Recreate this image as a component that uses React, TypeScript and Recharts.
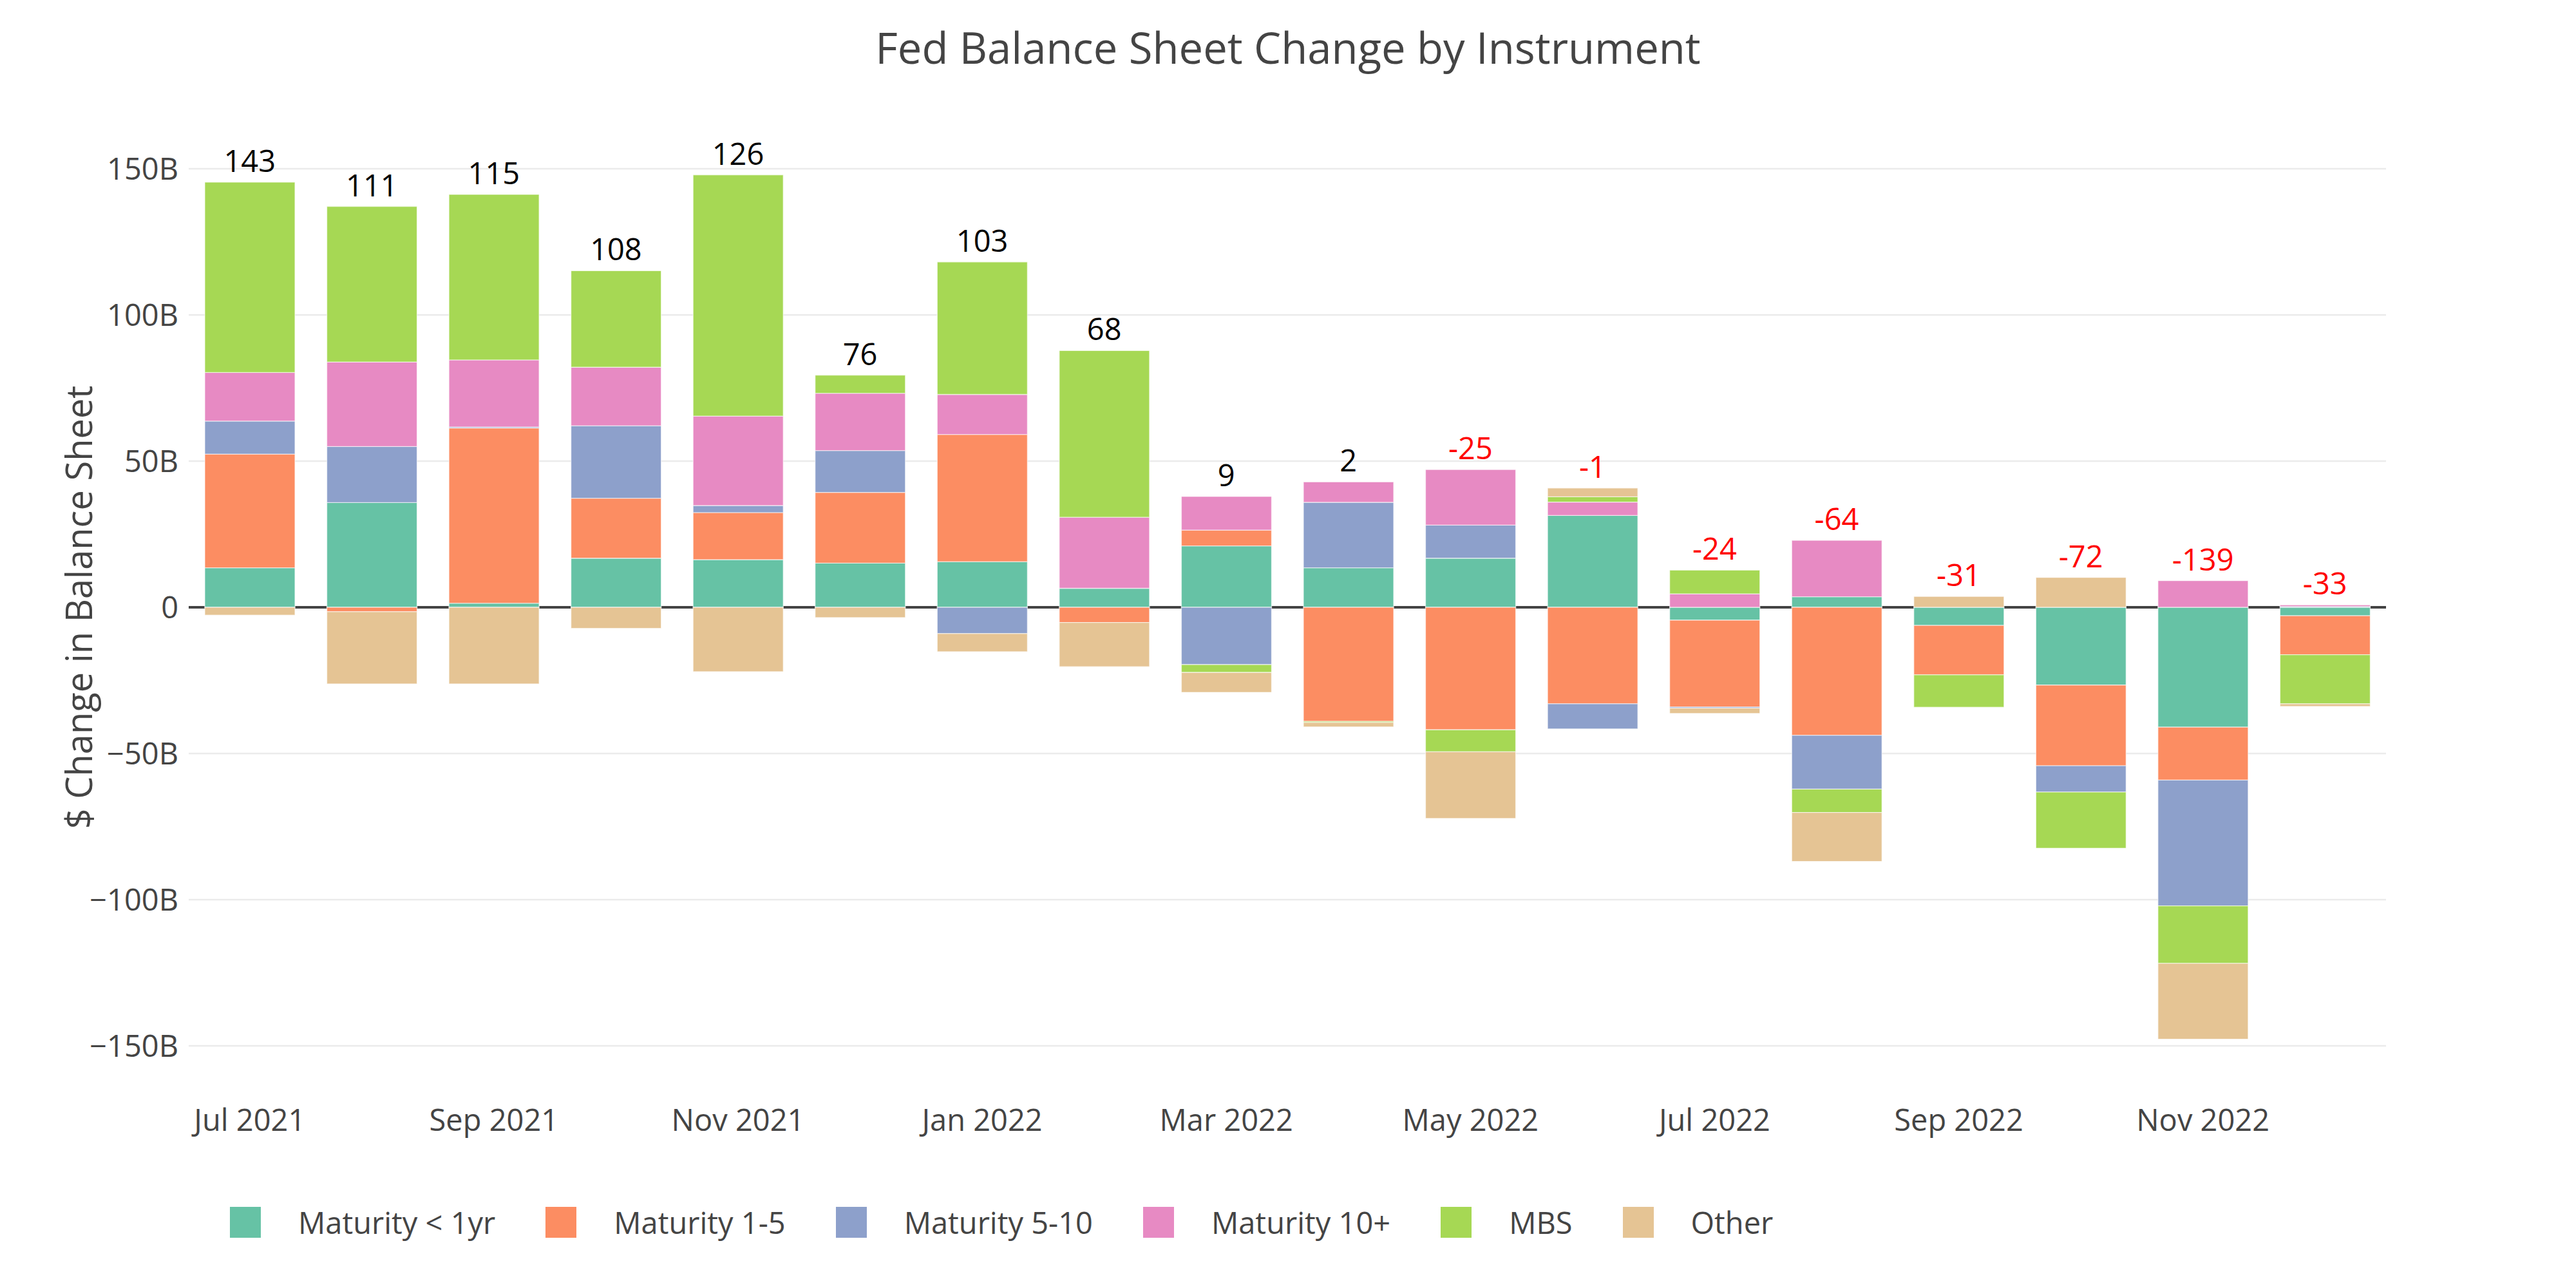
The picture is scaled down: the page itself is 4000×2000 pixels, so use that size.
import React from 'react';
import { ComposedChart, Bar, Line, XAxis, YAxis, CartesianGrid, LabelList } from 'recharts';

// monthly change of the Fed balance sheet, $B
const months = [
  'Jul 2021', 'Aug 2021', 'Sep 2021', 'Oct 2021', 'Nov 2021', 'Dec 2021',
  'Jan 2022', 'Feb 2022', 'Mar 2022', 'Apr 2022', 'May 2022', 'Jun 2022',
  'Jul 2022', 'Aug 2022', 'Sep 2022', 'Oct 2022', 'Nov 2022', 'Dec 2022',
];

const maturityUnder1 = [13.5, 35.8, 1.4, 16.8, 16.3, 15.1, 15.6, 6.5, 21, 13.5, 16.8, 31.4, -4.4, 3.6, -6.2, -26.6, -41, -2.9];
const maturity1to5 = [38.9, -1.5, 59.9, 20.5, 16.1, 24.2, 43.5, -5.2, 5.4, -39, -41.9, -33, -29.7, -43.8, -16.9, -27.6, -18.1, -13.3];
const maturity5to10 = [11.3, 19.2, 0.4, 24.8, 2.4, 14.3, -9, 0, -19.6, 22.4, 11.3, -8.6, -0.4, -18.4, 0, -9, -43, 0.3];
const maturity10plus = [16.6, 28.9, 22.9, 20, 30.6, 19.6, 13.7, 24.3, 11.5, 7, 19, 4.6, 4.6, 19.3, 0, 0, 9.1, 0.5];
const mbs = [65.1, 53.2, 56.6, 33, 82.5, 6.2, 45.3, 57, -2.7, -0.4, -7.5, 1.8, 8.1, -8, -11.1, -19.2, -19.7, -16.8];
const other = [-2.7, -24.7, -26.2, -7.2, -22, -3.5, -6.2, -15.1, -6.8, -1.5, -22.8, 3, -1.8, -16.7, 3.7, 10.2, -25.9, -0.9];

// net change labels printed above each bar
const netLabels = [143, 111, 115, 108, 126, 76, 103, 68, 9, 2, -25, -1, -24, -64, -31, -72, -139, -33];

const yTicks = [-150, -100, -50, 0, 50, 100, 150];
const yDomain = [-160, 160];

const series = [
  { key: 'under1', name: 'Maturity < 1yr', color: '#66c2a5', values: maturityUnder1 },
  { key: 'm1to5', name: 'Maturity 1-5', color: '#fc8d62', values: maturity1to5 },
  { key: 'm5to10', name: 'Maturity 5-10', color: '#8da0cb', values: maturity5to10 },
  { key: 'm10plus', name: 'Maturity 10+', color: '#e78ac3', values: maturity10plus },
  { key: 'mbs', name: 'MBS', color: '#a6d854', values: mbs },
  { key: 'other', name: 'Other', color: '#e5c494', values: other },
];

const data = months.map((m, i) => {
  const row: any = { month: m, net: netLabels[i] };
  let pos = 0;
  series.forEach((s) => {
    row[s.key] = s.values[i];
    if (s.values[i] > 0) pos += s.values[i];
  });
  row.posTop = pos;
  return row;
});

const FONT = "'Open Sans', sans-serif";
const W = 4000;
const H = 2000;
const MARGIN = { top: 216.6, right: 295, left: 0, bottom: 230.6 };
const X_AXIS_H = 100;
const PLOT_H = H - MARGIN.top - MARGIN.bottom - X_AXIS_H;
// pixel row of value 0, used only to pick the darker grid line
const ZERO_Y = MARGIN.top + (PLOT_H * yDomain[1]) / (yDomain[1] - yDomain[0]);

const fmtY = (v: number) => {
  if (v === 0) return '0';
  return (v < 0 ? '\u2212' : '') + Math.abs(v) + 'B';
};

const NetLabel = (props: any) => {
  const { x, y, value } = props;
  return (
    <text x={x} y={y - 16} textAnchor="middle" fontSize={47} fontFamily={FONT} fill={value < 0 ? '#ff0000' : '#000000'}>
      {value}
    </text>
  );
};

// grid line; the zero line is drawn darker and stays under the bars
const GridLine = (p: any) => {
  const zero = Math.abs(p.y1 - ZERO_Y) < 2;
  return (
    <line
      key={p.key}
      x1={p.x1}
      x2={p.x2}
      y1={p.y1}
      y2={p.y2}
      stroke={zero ? '#444' : '#ebebeb'}
      strokeWidth={zero ? 4 : 2.6}
    />
  );
};

export default function App() {
  return (
    <div style={{ position: 'fixed', left: 0, top: 0, width: W, height: H, background: '#fff', fontFamily: FONT }}>
      <div style={{ position: 'absolute', left: 0, top: 40, width: W, textAlign: 'center', fontSize: 67, lineHeight: '67px', color: '#444' }}>
        Fed Balance Sheet Change by Instrument
      </div>
      <ComposedChart width={W} height={H} data={data} stackOffset="sign" margin={MARGIN}>
        <CartesianGrid vertical={false} horizontal={GridLine} syncWithTicks />
        <XAxis
          dataKey="month"
          interval={1}
          height={X_AXIS_H}
          tickLine={false}
          axisLine={false}
          tickSize={0}
          tickMargin={53}
          tick={{ fill: '#444', fontSize: 47, fontFamily: FONT }}
        />
        <YAxis
          width={293}
          domain={yDomain}
          ticks={yTicks}
          tickFormatter={fmtY}
          tickLine={false}
          axisLine={false}
          tickSize={0}
          tickMargin={16}
          tick={{ fill: '#444', fontSize: 47, fontFamily: FONT }}
          label={{
            value: '$ Change in Balance Sheet',
            angle: -90,
            position: 'center',
            dx: -23,
            fill: '#444',
            fontSize: 56,
            fontFamily: FONT,
          }}
        />
        {series.map((s) => (
          <Bar
            key={s.key}
            dataKey={s.key}
            name={s.name}
            stackId="a"
            fill={s.color}
            stroke="#ffffff"
            strokeWidth={1.3}
            strokeOpacity={0.6}
            barSize={140}
            isAnimationActive={false}
          />
        ))}
        <Line dataKey="posTop" stroke="none" dot={false} activeDot={false} legendType="none" isAnimationActive={false}>
          <LabelList dataKey="net" content={NetLabel} />
        </Line>
      </ComposedChart>
      <div style={{ position: 'absolute', left: 357, top: 1874, height: 48, display: 'flex', alignItems: 'center' }}>
        {series.map((s) => (
          <div key={s.key} style={{ display: 'flex', alignItems: 'center', marginRight: 78 }}>
            <div style={{ width: 48, height: 48, background: s.color, marginRight: 58 }} />
            <span style={{ fontSize: 47, lineHeight: '48px', color: '#444', whiteSpace: 'nowrap' }}>{s.name}</span>
          </div>
        ))}
      </div>
    </div>
  );
}
